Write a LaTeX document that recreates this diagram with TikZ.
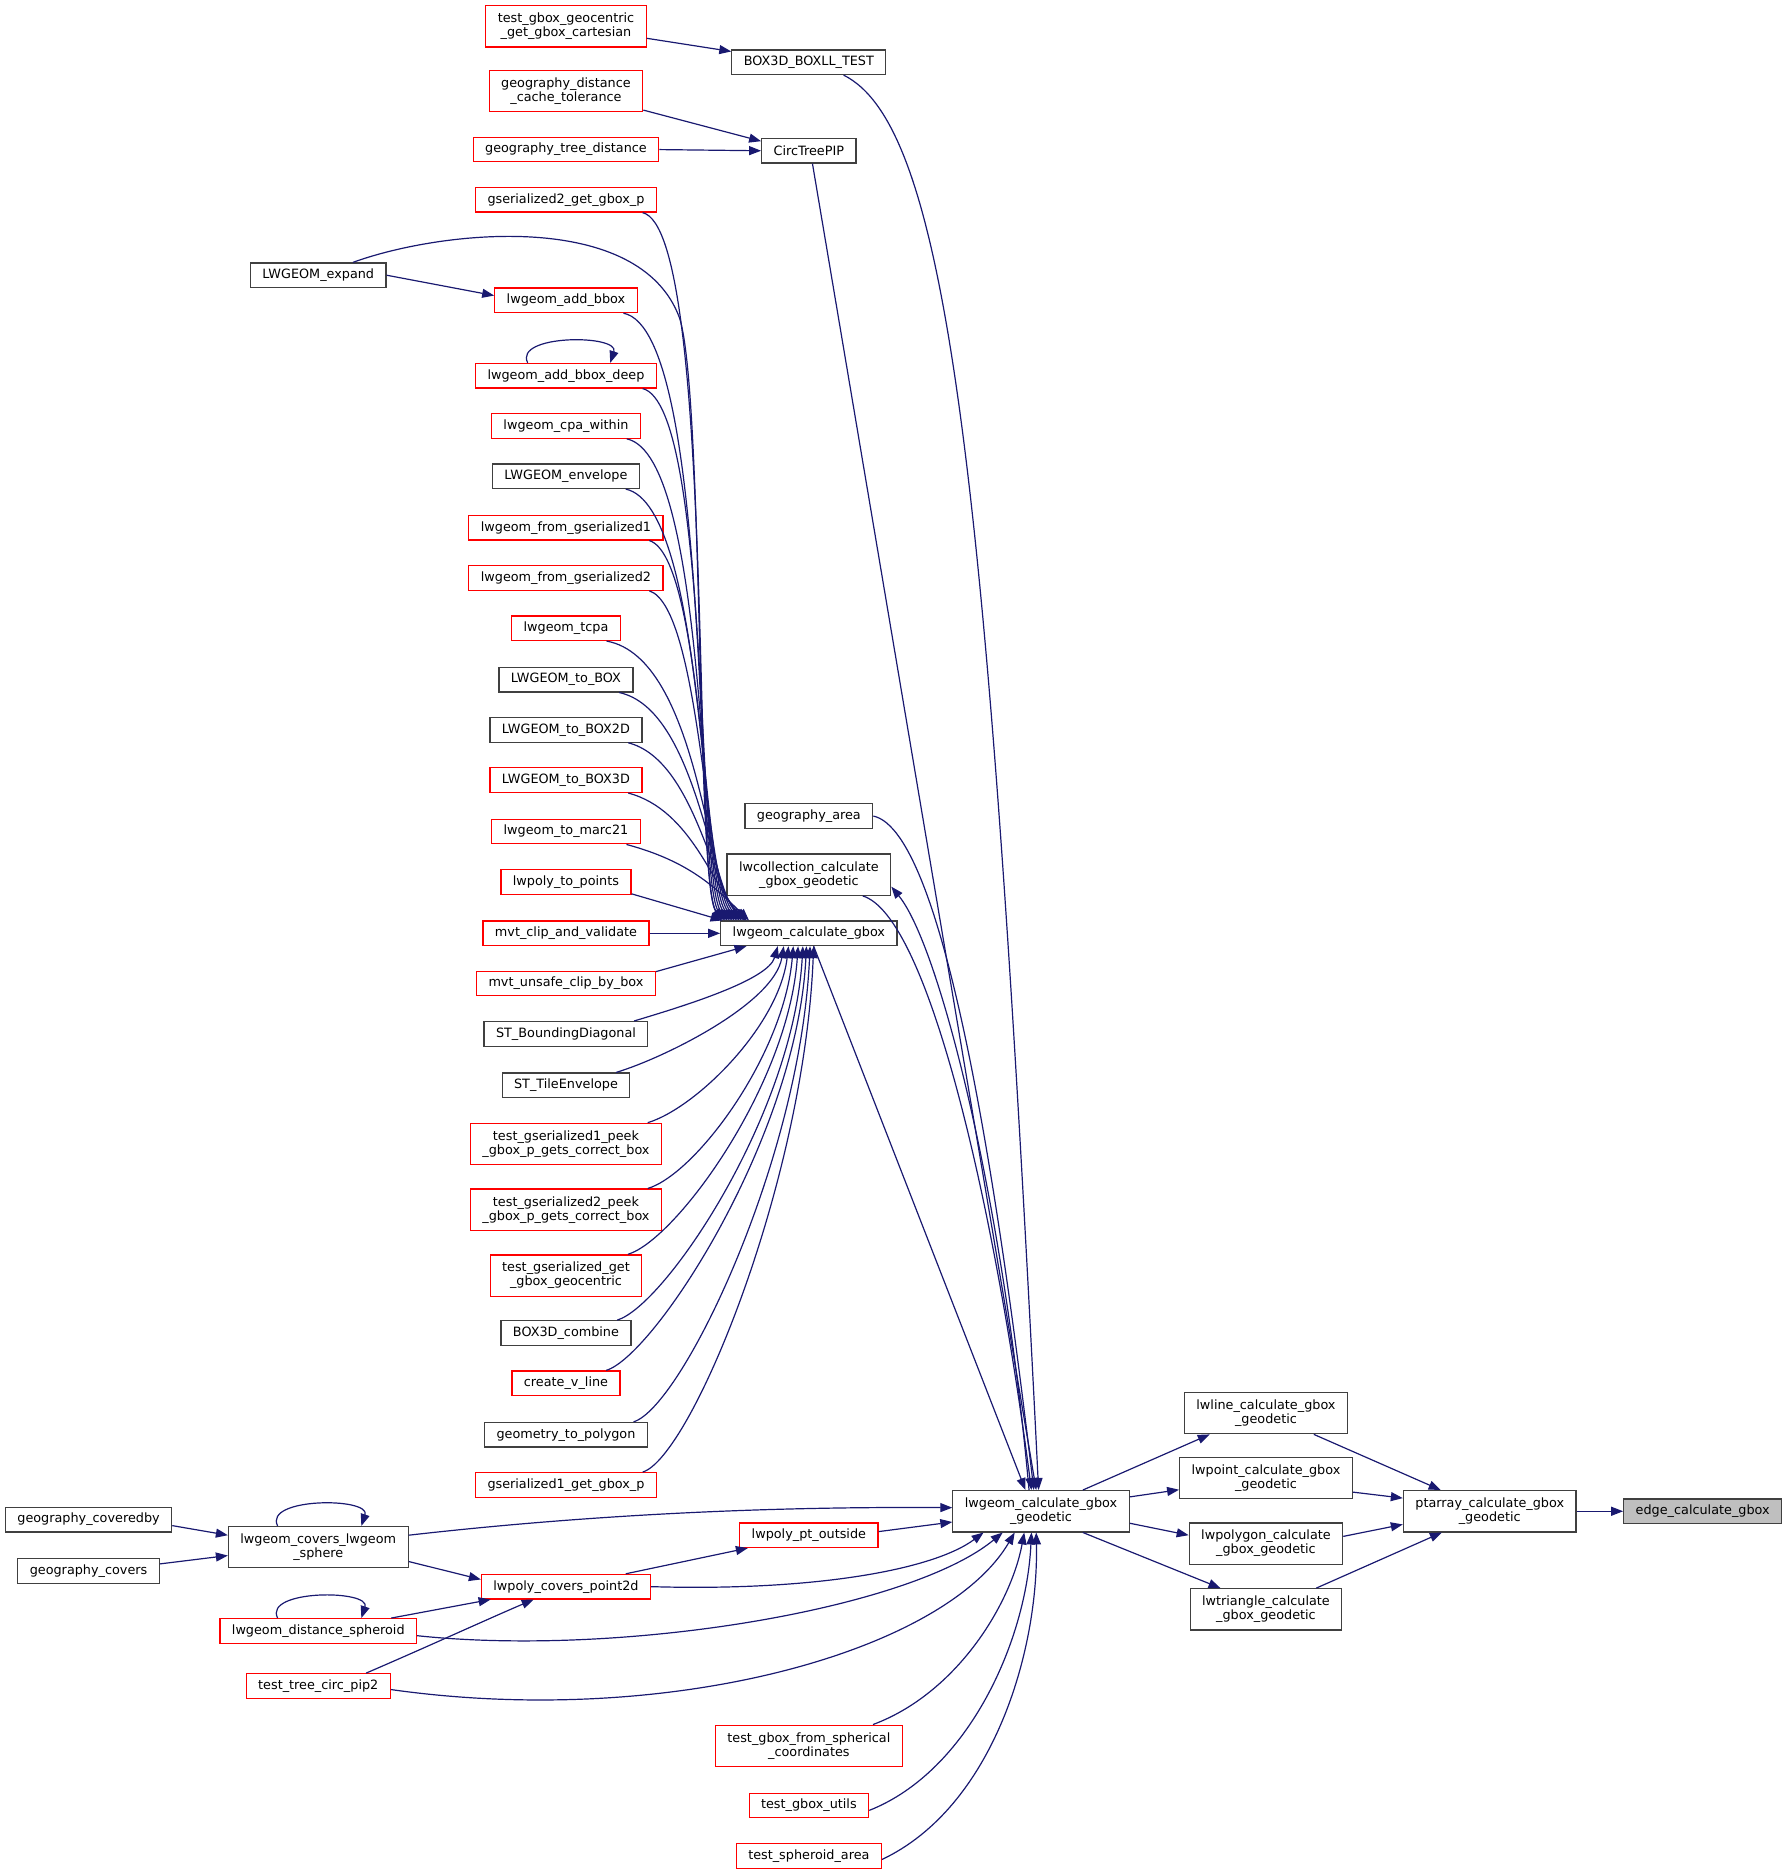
\documentclass[tikz,border=0pt]{standalone}
\usepackage{fontspec}
\setmainfont{DejaVu Sans}
\usetikzlibrary{arrows.meta,calc}
\definecolor{edgec}{HTML}{191970}
\definecolor{nodeb}{HTML}{404040}
\definecolor{nodered}{HTML}{FF0000}
\definecolor{hl}{HTML}{BFBFBF}
\begin{document}
\begin{tikzpicture}[x=1pt,y=-1pt,
  nd/.style={draw=nodeb, line width=1pt, fill=white, inner xsep=10pt, inner ysep=1pt,
    minimum height=20.5pt, font=\fontsize{10.7}{11.7}\selectfont, align=center},
  rd/.style={nd, draw=nodered},
  two/.style={minimum height=34.5pt},
  hlnode/.style={nd, fill=hl},
  e/.style={draw=edgec, line width=1pt, -{Triangle[length=10pt,width=7.5pt]}},
]
\useasboundingbox (0,0) rectangle (1494,1567);
% right part
\node[hlnode] (edge) at (1423,1263) {edge\_calculate\_gbox};
\node[nd,two] (pt) at (1245,1263) {ptarray\_calculate\_gbox\\\_geodetic};
\node[nd,two] (lline) at (1058,1181) {lwline\_calculate\_gbox\\\_geodetic};
\node[nd,two] (lpoint) at (1058,1235) {lwpoint\_calculate\_gbox\\\_geodetic};
\node[nd,two] (lpoly) at (1058,1290) {lwpolygon\_calculate\\\_gbox\_geodetic};
\node[nd,two] (ltri) at (1058,1345) {lwtriangle\_calculate\\\_gbox\_geodetic};
\node[nd,two] (G) at (870,1263) {lwgeom\_calculate\_gbox\\\_geodetic};
\node[nd] (L) at (676,780) {lwgeom\_calculate\_gbox};
\node[nd] (garea) at (676,682) {geography\_area};
\node[nd,two] (lwc) at (676,731) {lwcollection\_calculate\\\_gbox\_geodetic};
\node[nd] (boxll) at (676,52) {BOX3D\_BOXLL\_TEST};
\node[nd] (circ) at (676,126) {CircTreePIP};
% column
\node[rd,two] (tgeoc) at (473,22) {test\_gbox\_geocentric\\\_get\_gbox\_cartesian};
\node[rd,two] (gdct) at (473,76) {geography\_distance\\\_cache\_tolerance};
\node[rd] (gtd) at (473,125) {geography\_tree\_distance};
\node[rd] (gs2) at (473,167) {gserialized2\_get\_gbox\_p};
\node[rd] (addbb) at (473,251) {lwgeom\_add\_bbox};
\node[rd] (addbbd) at (473,314) {lwgeom\_add\_bbox\_deep};
\node[rd] (cpa) at (473,356) {lwgeom\_cpa\_within};
\node[nd] (env) at (473,398) {LWGEOM\_envelope};
\node[rd] (fg1) at (473,441) {lwgeom\_from\_gserialized1};
\node[rd] (fg2) at (473,483) {lwgeom\_from\_gserialized2};
\node[rd] (tcpa) at (473,525) {lwgeom\_tcpa};
\node[nd] (tobox) at (473,568) {LWGEOM\_to\_BOX};
\node[nd] (tobox2) at (473,610) {LWGEOM\_to\_BOX2D};
\node[rd] (tobox3) at (473,652) {LWGEOM\_to\_BOX3D};
\node[rd] (marc) at (473,695) {lwgeom\_to\_marc21};
\node[rd] (topts) at (473,737) {lwpoly\_to\_points};
\node[rd] (mvtc) at (473,780) {mvt\_clip\_and\_validate};
\node[rd] (mvtu) at (473,822) {mvt\_unsafe\_clip\_by\_box};
\node[nd] (stbd) at (473,864) {ST\_BoundingDiagonal};
\node[nd] (stte) at (473,907) {ST\_TileEnvelope};
\node[rd,two] (tg1) at (473,956) {test\_gserialized1\_peek\\\_gbox\_p\_gets\_correct\_box};
\node[rd,two] (tg2) at (473,1011) {test\_gserialized2\_peek\\\_gbox\_p\_gets\_correct\_box};
\node[rd,two] (tgg) at (473,1066) {test\_gserialized\_get\\\_gbox\_geocentric};
\node[nd] (b3c) at (473,1114) {BOX3D\_combine};
\node[rd] (cvl) at (473,1156) {create\_v\_line};
\node[nd] (g2p) at (473,1199) {geometry\_to\_polygon};
\node[rd] (gs1) at (473,1241) {gserialized1\_get\_gbox\_p};
% left
\node[nd] (expand) at (266,230) {LWGEOM\_expand};
\node[nd,two] (sphere) at (266,1293) {lwgeom\_covers\_lwgeom\\\_sphere};
\node[rd] (dsph) at (266,1363) {lwgeom\_distance\_spheroid};
\node[rd] (tcp) at (266,1409) {test\_tree\_circ\_pip2};
\node[nd] (gcb) at (74,1270) {geography\_coveredby};
\node[nd] (gcv) at (74,1313) {geography\_covers};
\node[rd] (ptout) at (676,1283) {lwpoly\_pt\_outside};
\node[rd] (pcp) at (473,1326) {lwpoly\_covers\_point2d};
\node[rd,two] (tgs) at (676,1459) {test\_gbox\_from\_spherical\\\_coordinates};
\node[rd] (tgu) at (676,1509) {test\_gbox\_utils};
\node[rd] (tsa) at (676,1551) {test\_spheroid\_area};

% ---- edges: top left
\draw[e] ([yshift=-10pt]tgeoc.east) -- ([yshift=9pt]boxll.west);
\draw[e] ([yshift=-16pt]gdct.east) -- ([yshift=8pt]circ.west);
\draw[e] (gtd.east) -- (circ.west);
\draw[e] ([xshift=29pt]boxll.south) .. controls (790,105) and (825,380) .. ([xshift=-2pt]G.north);
\draw[e] ([xshift=3pt]circ.south) -- ([xshift=-4pt]G.north);
% bundle into L from above
\foreach \n/\cx/\ex in {gs2/598/606, addbb/596/608, addbbd/594/610, cpa/592/612, env/590/614,
  fg1/588/616, fg2/586/618, tcpa/584/620, tobox/582/622, tobox2/580/623, tobox3/578/624, marc/576/626}
  \draw[e] ([xshift=-12pt]\n.south east) .. controls ($(\cx,0 |- \n.south)+(0,14)$) and ({\ex-28},742) .. (\ex,0 |- L.north);
\draw[e] ([xshift=29pt]expand.north) .. controls (370,192) and (535,175) .. (568,266)
  .. controls (588,330) and (582,740) .. (604,0 |- L.north);
\draw[e] (expand.east) -- ([yshift=4pt]addbb.west);
\draw[e] ([xshift=-32pt]addbbd.north) .. controls +(-12,-24) and +(8,-24) .. ([xshift=37pt]addbbd.north);
\draw[e] ([yshift=-10pt]topts.east) -- ([xshift=2pt]L.north west);
\draw[e] (mvtc.east) -- (L.west);
\draw[e] ([yshift=10pt]mvtu.east) -- ([xshift=22pt]L.south west);
% bundle into L from below
\foreach \n/\ye/\ex in {stbd/854/650, stte/897/655, tg1/939/659, tg2/994/663, tgg/1049/667,
  b3c/1104/671, cvl/1146/674, g2p/1189/677, gs1/1231/680}
  \draw[e] ([xshift=-12pt]\n.north east) .. controls +(40,-12) and ({\ex-8},{\ye-0.55*(\ye-791)}) .. (\ex,0 |- L.south);
% into G from above
\draw[e] ([xshift=4pt]L.south) -- ([xshift=-13pt]G.north);
\draw[e] (garea.east) .. controls (790,695) and (835,1000) .. ([xshift=-6pt]G.north);
\draw[e] ([xshift=45pt]lwc.south) .. controls (775,765) and (830,1000) .. ([xshift=-8pt]G.north);
\draw[e] ([xshift=-10pt]G.north) .. controls (838,1000) and (785,790) .. ([yshift=-10pt]lwc.east);
% G to right
\draw[e] ([xshift=35pt]G.north) -- ([xshift=-47pt]lline.south);
\draw[e] ([yshift=12pt]G.east) -- ([yshift=-10pt]lpoint.west);
\draw[e] ([yshift=-10pt]G.east) -- ([yshift=7pt]lpoly.west);
\draw[e] ([xshift=35pt]G.south) -- ([xshift=-38pt]ltri.north);
\draw[e] ([xshift=40pt]lline.south) -- ([xshift=-41pt]pt.north);
\draw[e] ([yshift=-12pt]lpoint.east) -- ([yshift=11pt]pt.west);
\draw[e] ([yshift=6pt]lpoly.east) -- ([yshift=-11pt]pt.west);
\draw[e] ([xshift=42pt]ltri.north) -- ([xshift=-40pt]pt.south);
\draw[e] (pt.east) -- (edge.west);
% lower left
\draw[e] ([yshift=-5pt]gcb.east) -- ([yshift=10pt]sphere.west);
\draw[e] ([yshift=6pt]gcv.east) -- ([yshift=-7pt]sphere.west);
\draw[e] ([xshift=-34pt]sphere.north) .. controls +(-12,-24) and +(8,-24) .. ([xshift=36pt]sphere.north);
\draw[e] ([xshift=-34pt]dsph.north) .. controls +(-12,-24) and +(8,-24) .. ([xshift=36pt]dsph.north);
\draw[e] ([yshift=10pt]sphere.east) .. controls (500,1265) and (650,1259) .. ([yshift=3pt]G.west);
\draw[e] ([yshift=-12pt]sphere.east) -- ([yshift=6pt]pcp.west);
\draw[e] ([xshift=61pt]dsph.north) -- ([xshift=-63pt]pcp.south);
\draw[e] ([xshift=40pt]tcp.north) .. controls (360,1375) and (410,1352) .. ([xshift=-27pt]pcp.south);
\draw[e] ([xshift=50pt]pcp.north) -- ([xshift=-51pt]ptout.south);
\draw[e] ([yshift=3pt]ptout.east) -- ([yshift=-9pt]G.west);
\draw[e] (pcp.east) .. controls (680,1330) and (780,1312) .. (822,0 |- G.south);
\draw[e] ([yshift=-4pt]dsph.east) .. controls (520,1385) and (760,1345) .. (838,0 |- G.south);
\draw[e] ([yshift=-3pt]tcp.east) .. controls (560,1445) and (790,1380) .. (848,0 |- G.south);
\draw[e] ([xshift=-25pt]tgs.north east) .. controls (800,1415) and (845,1340) .. (856,0 |- G.south);
\draw[e] ([yshift=-4pt]tgu.east) .. controls (810,1480) and (858,1370) .. (862,0 |- G.south);
\draw[e] ([yshift=-3pt]tsa.east) .. controls (830,1510) and (868,1380) .. (866,0 |- G.south);
\end{tikzpicture}
\end{document}
